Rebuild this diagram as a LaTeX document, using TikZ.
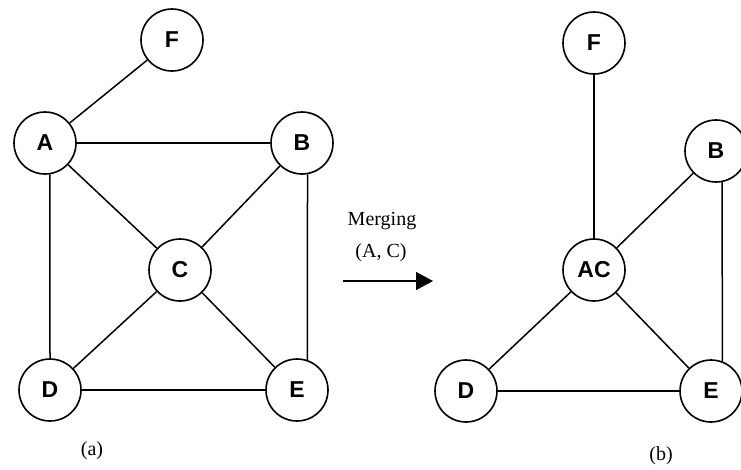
\documentclass[tikz,border=0pt]{standalone}
\usepackage{fontspec}
\setmainfont{Liberation Serif}
\newfontfamily\nodefont{Liberation Sans}
\usetikzlibrary{arrows.meta}
\tikzset{
  vertex/.style={circle, draw, line width=1.6pt, minimum size=62pt, inner sep=0pt,
    font=\nodefont\bfseries\fontsize{23}{23}\selectfont},
  edge/.style={line width=1.5pt},
  caption/.style={font=\fontsize{20}{24}\selectfont, inner sep=0pt},
}
\begin{document}
\begin{tikzpicture}[x=1pt, y=-1pt]
  \useasboundingbox (0,0) rectangle (741,469);
  \clip (0,0) rectangle (741,469);

  % graph before merging
  \node[vertex] (F1) at (172,40)  {F};
  \node[vertex] (A1) at (45,143)  {A};
  \node[vertex] (B1) at (302,143) {B};
  \node[vertex] (C1) at (180,270) {C};
  \node[vertex] (D1) at (50,390)  {D};
  \node[vertex] (E1) at (297,390) {E};
  \draw[edge] (F1) -- (A1);
  \draw[edge] (A1) -- (B1);
  \draw[edge] (A1) -- (C1);
  \draw[edge] (A1.-81) -- (D1.90);
  \draw[edge] (B1) -- (C1);
  \draw[edge] (B1.-80) -- (E1.71);
  \draw[edge] (C1) -- (D1);
  \draw[edge] (C1) -- (E1);
  \draw[edge] (D1) -- (E1);
  \node[caption] (capa) at (92,451) {(a)};

  % merge step
  \node[caption] (mlabel) at (382,221) {Merging};
  \node[caption] (plabel) at (381,253) {(A, C)};
  \coordinate (arrS) at (343,281);
  \coordinate (arrE) at (433,281);
  \draw[line width=1.5pt, -{Triangle[length=17pt,width=18pt]}] (arrS) -- (arrE);

  % graph after merging
  \node[vertex] (F2)  at (594,43)  {F};
  \node[vertex] (B2)  at (716,151) {B};
  \node[vertex] (AC2) at (594,270) {AC};
  \node[vertex] (D2)  at (466,391) {D};
  \node[vertex] (E2)  at (711,391) {E};
  \draw[edge] (F2) -- (AC2);
  \draw[edge] (B2) -- (AC2);
  \draw[edge] (B2.-79) -- (E2.69);
  \draw[edge] (AC2) -- (D2);
  \draw[edge] (AC2) -- (E2);
  \draw[edge] (D2) -- (E2);
  \node[caption] (capb) at (661,456) {(b)};
\end{tikzpicture}
\end{document}
